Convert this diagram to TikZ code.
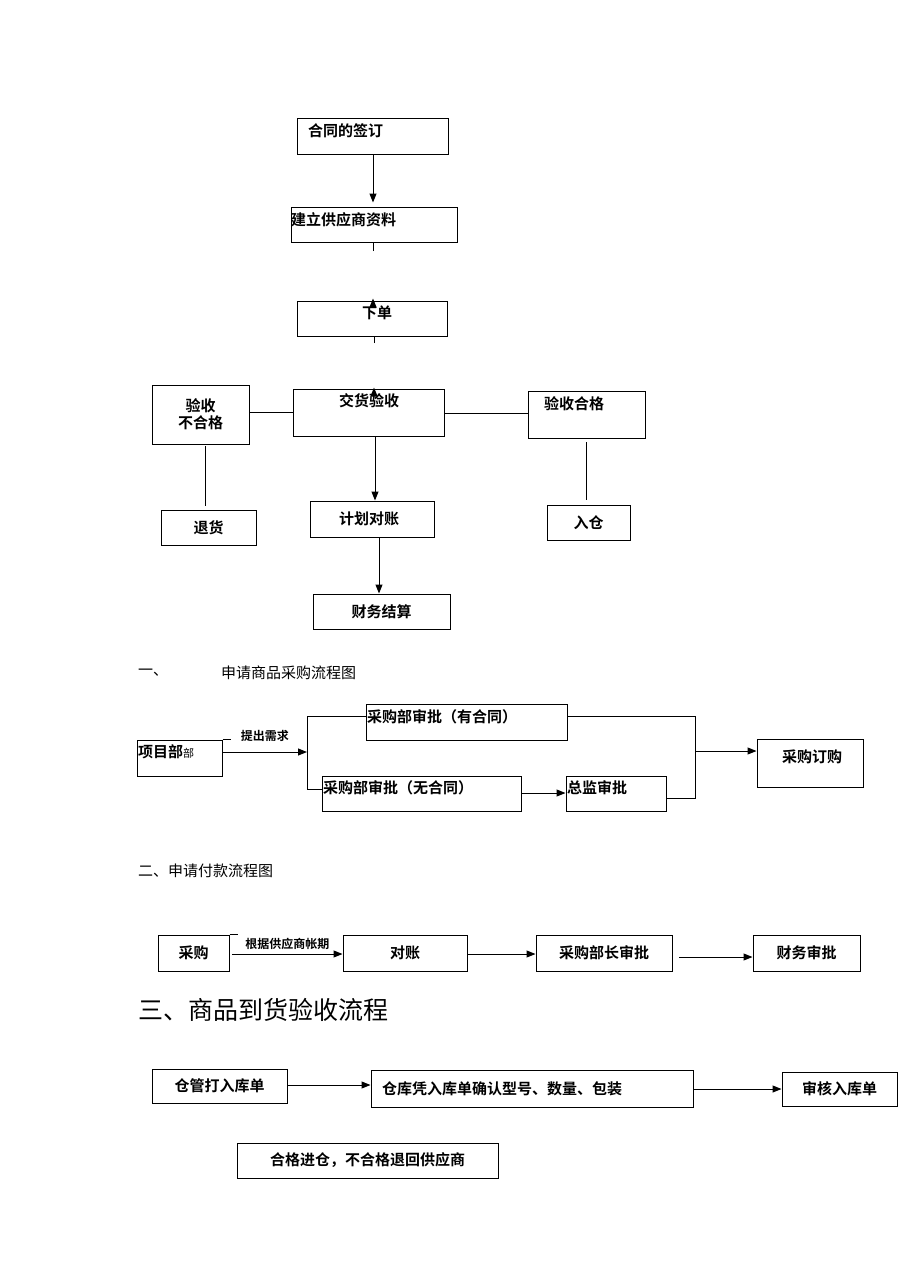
\documentclass[tikz,border=0pt]{standalone}
\usepackage{fontspec}
\setmainfont{Noto Sans CJK SC}[BoldFont={Noto Sans CJK SC Bold}]
\usetikzlibrary{arrows.meta}
\tikzset{
  box/.style={draw,line width=1pt,inner sep=1pt,font=\fontsize{15}{17}\selectfont\bfseries},
  arr/.style={line width=1pt,-{Triangle[length=9pt,width=7pt]}},
  ln/.style={line width=0.8pt},
  tag/.style={font=\fontsize{12}{13}\selectfont\bfseries,inner sep=0pt},
  head/.style={font=\fontsize{15}{17}\selectfont,inner sep=0pt,anchor=west}
}
% box from left, top, right, bottom
\newcommand{\bx}[6]{\node[box,minimum width={#4-#2},minimum height={#5-#3}] (#1) at ({(#2+#4)/2},{(#3+#5)/2}) {#6};}
\begin{document}
\begin{tikzpicture}[x=1pt,y=-1pt]
\useasboundingbox (0,0) rectangle (909,1286);

% contract flow
\bx{ht}{297}{118}{448}{154}{}
\node[tag,font=\fontsize{15}{17}\selectfont\bfseries,anchor=west] (htt) at (308,131) {合同的签订};
\bx{zl}{291}{207}{457}{242}{}
\node[tag,font=\fontsize{15}{17}\selectfont\bfseries,anchor=west] (zlt) at (291,220) {建立供应商资料};
\bx{xd}{297}{301}{447}{336}{}
\node[tag,font=\fontsize{15}{17}\selectfont\bfseries] (xdt) at (377,313) {下单};
\bx{jh}{293}{389}{444}{436}{}
\node[tag,font=\fontsize{15}{17}\selectfont\bfseries] (jht) at (369,401) {交货验收};
\bx{bhg}{152}{385}{249}{444}{\shortstack{验收\\不合格}}
\bx{hg}{528}{391}{645}{438}{}
\node[tag,font=\fontsize{15}{17}\selectfont\bfseries] (hgt) at (574,404) {验收合格};
\bx{th}{161}{510}{256}{545}{退货}
\bx{dz}{310}{501}{434}{537}{}
\node[tag,font=\fontsize{15}{17}\selectfont\bfseries] (dzt) at (369,519) {计划对账};
\bx{rc}{547}{505}{630}{540}{入仓}
\bx{cw}{313}{594}{450}{629}{财务结算}

\draw[arr] (ht.south -| 373,0) -- +(0,48);
\draw[arr] (373,251) -- (zl.south -| 373,0) ++(0,56);
\draw[arr] (374,343) -- (xd.south -| 374,0) ++(0,51);
\draw[arr] (jh.south -| 375,0) -- (dz.north -| 375,0);
\draw[arr] (dz.south -| 379,0) -- (cw.north -| 379,0);
\draw[ln] (bhg.east |- 0,412) -- (jh.west |- 0,412);
\draw[ln] (jh.east |- 0,413) -- (hg.west |- 0,413);
\draw[ln] (205,446) -- (205,506);
\draw[ln] (586,442) -- (586,500);

% purchase request
\node[head] (h1) at (138,673) {一、};
\node[head] (h1b) at (221,673) {申请商品采购流程图};
\bx{xm}{137}{740}{222}{776}{}
\node[anchor=west,inner sep=0pt] (xmt) at (138,752) {\fontsize{15}{17}\selectfont\bfseries 项目部\fontsize{11}{12}\selectfont\mdseries 部};
\draw[ln] (xm.north east) -- +(8,0);
\bx{yht}{366}{704}{567}{740}{}
\node[tag,font=\fontsize{15}{17}\selectfont\bfseries,anchor=west] (yhtt) at (367,717) {采购部审批（有合同）};
\bx{wht}{322}{776}{521}{811}{}
\node[tag,font=\fontsize{15}{17}\selectfont\bfseries,anchor=west] (whtt) at (323,788) {采购部审批（无合同）};
\bx{zj}{566}{776}{666}{811}{}
\node[tag,font=\fontsize{15}{17}\selectfont\bfseries,anchor=west] (zjt) at (567,788) {总监审批};
\bx{dg}{757}{739}{863}{787}{}
\node[tag,font=\fontsize{15}{17}\selectfont\bfseries] (dgt) at (812,757) {采购订购};
\coordinate (sp) at (307,752);
\coordinate (jn) at (695,751);
\draw[arr] (xm.east |- sp) -- (sp) node[tag,midway,above=10pt] {提出需求};
\draw[ln] (yht.west |- 0,716) -| (307,789) -- (wht.west |- 0,789);
\draw[arr] (wht.east |- 0,793) -- (zj.west |- 0,793);
\draw[ln] (yht.east |- 0,716) -| (695,798) -- (zj.east |- 0,798);
\draw[arr] (jn) -- (dg.west |- jn);

% payment request
\node[head] (h2) at (138,871) {二、申请付款流程图};
\bx{cg}{158}{935}{229}{971}{采购}
\draw[ln] (cg.north east) -- +(8,0);
\bx{dzz}{343}{935}{467}{971}{对账}
\bx{bz}{536}{935}{672}{971}{采购部长审批}
\bx{cs}{753}{935}{860}{971}{财务审批}
\draw[arr] (232,954) -- (dzz.west |- 0,954) node[tag,pos=0.5,above=4pt] {根据供应商帐期};
\draw[arr] (dzz.east |- 0,954) -- (bz.west |- 0,954);
\draw[arr] (679,957) -- (cs.west |- 0,957);

% goods receipt
\node[head,font=\fontsize{25}{28}\selectfont] (h3) at (138,1010) {三、商品到货验收流程};
\bx{cgd}{152}{1069}{287}{1103}{仓管打入库单}
\bx{qr}{371}{1070}{693}{1107}{}
\node[tag,font=\fontsize{15}{17}\selectfont\bfseries,anchor=west] (qrt) at (382,1089) {仓库凭入库单确认型号、数量、包装};
\bx{sh}{782}{1072}{897}{1106}{审核入库单}
\bx{jc}{237}{1143}{498}{1178}{合格进仓，不合格退回供应商}
\draw[arr] (cgd.east |- 0,1085) -- (qr.west |- 0,1085);
\draw[arr] (qr.east |- 0,1089) -- (sh.west |- 0,1089);
\end{tikzpicture}
\end{document}
